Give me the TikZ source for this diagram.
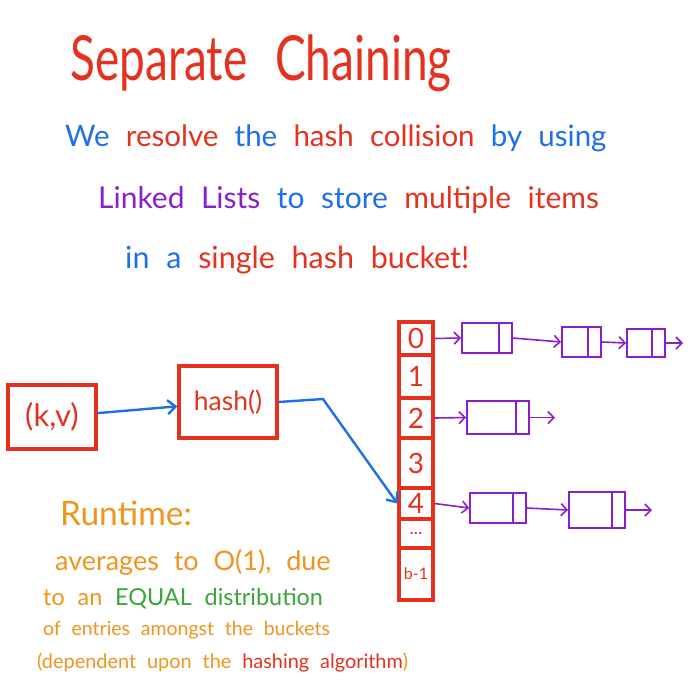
\documentclass[tikz,border=0pt]{standalone}
\usepackage{fontspec}
\setmainfont{Lato}
\usetikzlibrary{arrows.meta}
\definecolor{hred}{HTML}{E4321E}
\definecolor{hblue}{HTML}{1E6FE8}
\definecolor{hpurple}{HTML}{8A20C8}
\definecolor{horange}{HTML}{F0941E}
\definecolor{hgreen}{HTML}{3AA63A}
\newcommand\widewordspace{\spaceskip=0.55em plus 0.1em\relax}
\begin{document}
\begin{tikzpicture}[x=1pt,y=-1pt,
  fs/.style={font=\fontsize{#1}{#1}\selectfont},
  txt/.style={anchor=base west, inner sep=0pt, execute at begin node=\widewordspace},
  redbox/.style={draw=hred, line width=3.2pt, text=hred, inner sep=0pt},
  cell/.style={redbox, minimum width=34pt, fs=28},
  llnode/.style={draw=hpurple, line width=1.8pt, inner sep=0pt,
    path picture={\draw[hpurple, line width=2pt]
      ([xshift=-13pt]path picture bounding box.north east) --
      ([xshift=-13pt]path picture bounding box.south east);}},
  parrow/.style={draw=hpurple, line width=1.6pt, -{Straight Barb[length=6pt,width=12pt]}},
  barrow/.style={draw=hblue, line width=2.4pt, -{Straight Barb[length=8pt,width=14pt]}}
]
\useasboundingbox (0,0) rectangle (700,681);
\fill[white] (0,0) rectangle (700,681);

% title and intro text
\node[txt, fs=46, text=hred] (title) at (70,80) {\scalebox{1}[1.35]{Separate\hspace{0.6em}Chaining}};
\node[txt, fs=29.5] (l1) at (65,146) {\textcolor{hblue}{We} \textcolor{hred}{resolve} \textcolor{hblue}{the} \textcolor{hred}{hash collision} \textcolor{hblue}{by using}};
\node[txt, fs=30] (l2) at (98,208) {\textcolor{hpurple}{Linked Lists} \textcolor{hblue}{to store} \textcolor{hred}{multiple items}};
\node[txt, fs=30.5] (l3) at (125,268) {\textcolor{hblue}{in a} \textcolor{hred}{single hash bucket!}};

% input and hash function
\node[redbox, fs=31, minimum width=88pt, minimum height=64pt] (kv) at (52,417) {(k,v)};
\node[redbox, fs=26.5, minimum width=98pt, minimum height=72pt] (hash) at (228,402) {hash()};

% bucket array
\node[cell, minimum height=33pt] (c0) at (416,338.5) {0};
\node[cell, minimum height=43pt] (c1) at (416,376.5) {1};
\node[cell, minimum height=40pt] (c2) at (416,418) {2};
\node[cell, minimum height=50pt] (c3) at (416,463) {3};
\node[cell, minimum height=31pt] (c4) at (416,503.5) {4};
\node[cell, minimum height=29pt, fs=18] (cd) at (416,533.5) {...};
\node[cell, minimum height=52pt, fs=16] (cb) at (416,574) {b-1};

\draw[barrow] (kv) -- (hash);
\coordinate (bend) at (323,399);
\draw[barrow] (hash.east) -- (bend) -- (c4.west);

% linked lists
\node[llnode, minimum width=50pt, minimum height=30pt] (n01) at (487,338) {};
\node[llnode, minimum width=39pt, minimum height=30pt] (n02) at (581.5,342) {};
\node[llnode, minimum width=38pt, minimum height=28pt] (n03) at (646,343) {};
\coordinate (e0) at (683,343);
\node[llnode, minimum width=62pt, minimum height=33pt] (n2) at (498,417.5) {};
\coordinate (e2) at (555,417.5);
\node[llnode, minimum width=56pt, minimum height=30pt] (n41) at (498,508) {};
\node[llnode, minimum width=56pt, minimum height=36pt] (n42) at (597,510) {};
\coordinate (e4) at (652,510);

\draw[parrow] (c0.east) -- (n01.west);
\draw[parrow] (n01.east) -- (n02.west);
\draw[parrow] (n02.east) -- (n03.west);
\draw[parrow] (n03.east) -- (e0);
\draw[parrow] (c2.east) -- (n2.west);
\draw[parrow] (n2.east) -- (e2);
\draw[parrow] (c4.east) -- (n41.west);
\draw[parrow] (n41.east) -- (n42.west);
\draw[parrow] (n42.east) -- (e4);

% runtime notes
\node[txt, fs=33.5, text=horange] (rt) at (60,525) {Runtime:};
\node[txt, fs=27, text=horange] (r1) at (55,570) {averages to O(1), due};
\node[txt, fs=23.4, text=horange] (r2) at (43,605) {to an \textcolor{hgreen}{EQUAL distribution}};
\node[txt, fs=19.5, text=horange] (r3) at (43,635) {of entries amongst the buckets};
\node[txt, fs=19.9, text=horange] (r4) at (37,668) {(dependent upon the \textcolor{hred}{hashing algorithm})};
\end{tikzpicture}
\end{document}
